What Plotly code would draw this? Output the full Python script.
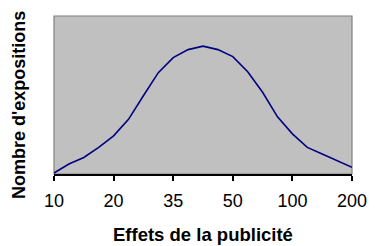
import plotly.graph_objects as go

tick_labels = ["10", "20", "35", "50", "100", "200"]
tick_positions = [0, 4, 8, 12, 16, 20]
exposures = [1, 10, 16.5, 26.5, 38, 54.5, 78, 101, 116, 124, 127.5,
             124, 117, 102, 81.5, 57, 40, 26.5, 20, 13.3, 6.7]
steps = list(range(len(exposures)))

fig = go.Figure()
fig.add_trace(go.Scatter(x=steps, y=exposures, mode="lines",
                         line=dict(color="#000080", width=1.6), hoverinfo="skip"))

fig.update_layout(
    width=379, height=246,
    margin=dict(l=54, r=17, t=16, b=72),
    paper_bgcolor="white", plot_bgcolor="#C0C0C0",
    showlegend=False,
    font=dict(family="Liberation Sans, Arial", color="black"),
    xaxis=dict(range=[0, 20], tickvals=tick_positions, ticktext=tick_labels,
               showgrid=False, zeroline=False, showline=True, linecolor="black",
               linewidth=1.5, ticks="outside", ticklen=5, tickwidth=1.5,
               tickcolor="black", tickfont=dict(size=18), ticklabelstandoff=5,
               fixedrange=True),
    yaxis=dict(range=[0, 157.5], showticklabels=False, showgrid=False,
               zeroline=False, showline=False, ticks="", fixedrange=True),
    shapes=[dict(type="rect", xref="paper", yref="paper", x0=0, x1=1, y0=0, y1=1,
                 line=dict(color="#808080", width=1.2), layer="below")],
    annotations=[
        dict(text="<b>Effets de la publicité</b>", xref="paper", yref="paper",
             x=0.5, y=-0.380, showarrow=False, font=dict(size=18.5),
             xanchor="center", yanchor="middle"),
        dict(text="<b>Nombre d'expositions</b>", xref="paper", yref="paper",
             x=-0.1169, y=0.437, showarrow=False, font=dict(size=18),
             textangle=-90, xanchor="center", yanchor="middle"),
    ],
)

fig.write_html("out.html", config={"displayModeBar": False},
               post_script="document.body.style.margin='0';document.body.style.overflow='hidden';")
